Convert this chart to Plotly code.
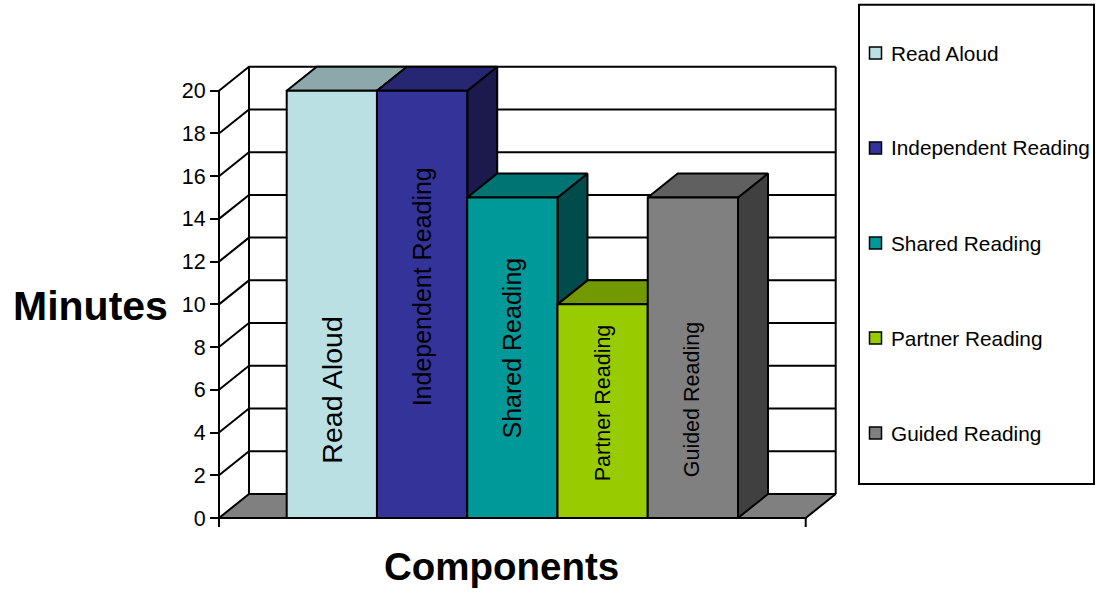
import plotly.graph_objects as go

# ---------------- data ----------------
series = ["Read Aloud", "Independent Reading", "Shared Reading", "Partner Reading", "Guided Reading"]
minutes = [20, 20, 15, 10, 15]
y_ticks = [0, 2, 4, 6, 8, 10, 12, 14, 16, 18, 20]
x_title = "Components"
y_title = "Minutes"

# ---------------- style ----------------
front_colors = ["#BBE0E3", "#333399", "#009999", "#99CC00", "#808080"]
label_frac = [0.30, 0.54, 0.53, 0.54, 0.37]      # label centre as fraction of bar height
label_size = [28.5, 25, 25, 21.5, 21.5]
FONT = "Liberation Sans, Arial, sans-serif"
LW = 2

W_FIG, H_FIG = 1096, 594
# pixel calibration of the front plane
X0_PX, XW_PX = 219.0, 805.7      # x = 0 and x = W
Y0_PX, Y20_PX = 518.0, 90.7      # y = 0 and y = 20
DX_PX, DY_PX = 30.0, 24.0        # depth offset
GAP = 0.75                        # half of the category gap (in bar widths)
W = len(series) + 2 * GAP

XU = (XW_PX - X0_PX) / W
YU = (Y0_PX - Y20_PX) / max(y_ticks)
DX = DX_PX / XU
DY = DY_PX / YU
TK = 9 / YU

L, R, T, B = 208.0, 850.0, 60.0, 535.0
xr = [(L - X0_PX) / XU, (R - X0_PX) / XU]
yr = [(Y0_PX - B) / YU, (Y0_PX - T) / YU]


def px2paper(px, py):
    return (px - L) / (R - L), (B - py) / (B - T)


def shade(hexc, f):
    h = hexc.lstrip("#")
    r, g, b = (int(h[i:i + 2], 16) for i in (0, 2, 4))
    return "#%02X%02X%02X" % (round(r * f), round(g * f), round(b * f))


fig = go.Figure()


def poly(pts, fill):
    xs = [p[0] for p in pts] + [pts[0][0]]
    ys = [p[1] for p in pts] + [pts[0][1]]
    fig.add_trace(go.Scatter(x=xs, y=ys, mode="lines", fill="toself", fillcolor=fill,
                             line=dict(color="black", width=LW), hoverinfo="skip",
                             showlegend=False))


def line(xs, ys):
    fig.add_trace(go.Scatter(x=xs, y=ys, mode="lines", line=dict(color="black", width=LW),
                             hoverinfo="skip", showlegend=False))


top = max(y_ticks)
# floor
poly([(0, 0), (W, 0), (W + DX, DY), (DX, DY)], "#808080")
# walls & gridlines
for t in y_ticks[1:]:
    line([0, DX, W + DX], [t, t + DY, t + DY])
line([DX, DX], [DY, top + DY])
line([W + DX, W + DX], [DY, top + DY])
# front axis lines / ticks
line([0, 0], [-TK, top])
line([W, W], [-TK, 0])

# bars
for i, (name, v, c) in enumerate(zip(series, minutes, front_colors)):
    x0 = GAP + i
    x1 = x0 + 1
    poly([(x1, 0), (x1 + DX, DY), (x1 + DX, v + DY), (x1, v)], shade(c, 0.5))
    poly([(x0, v), (x1, v), (x1 + DX, v + DY), (x0 + DX, v + DY)], shade(c, 0.75))
    poly([(x0, 0), (x1, 0), (x1, v), (x0, v)], c)
    fig.add_annotation(x=(x0 + x1) / 2, y=v * label_frac[i], text=name, textangle=-90,
                       showarrow=False, font=dict(size=label_size[i], color="black", family=FONT),
                       xanchor="center", yanchor="middle")

# legend (manual)
shapes = []
lx0, ly0 = px2paper(859, 4.7)
lx1, ly1 = px2paper(1094, 484)
shapes.append(dict(type="rect", xref="paper", yref="paper", x0=lx0, y0=ly1, x1=lx1, y1=ly0,
                   line=dict(color="black", width=LW), fillcolor="white", layer="above"))
for i, (name, c) in enumerate(zip(series, front_colors)):
    cy = 53 + i * 95
    sx0, sy0 = px2paper(869.5, cy - 6)
    sx1, sy1 = px2paper(881.5, cy + 6)
    shapes.append(dict(type="rect", xref="paper", yref="paper", x0=sx0, y0=sy1, x1=sx1, y1=sy0,
                       line=dict(color="black", width=1.5), fillcolor=c, layer="above"))
    tx, ty = px2paper(889, cy)
    fig.add_annotation(xref="paper", yref="paper", x=tx, y=ty, text=name, showarrow=False,
                       xanchor="left", yanchor="middle",
                       font=dict(size=20.8, color="black", family=FONT))

# axis titles
ax, ay = px2paper(90.5, 306)
fig.add_annotation(xref="paper", yref="paper", x=ax, y=ay, text="<b>%s</b>" % y_title,
                   showarrow=False, xanchor="center", yanchor="middle",
                   font=dict(size=41, color="black", family=FONT))
bx, by = px2paper(501.5, 566)
fig.add_annotation(xref="paper", yref="paper", x=bx, y=by, text="<b>%s</b>" % x_title,
                   showarrow=False, xanchor="center", yanchor="middle",
                   font=dict(size=38.5, color="black", family=FONT))

fig.update_layout(
    width=W_FIG, height=H_FIG,
    margin=dict(l=L, r=W_FIG - R, t=T, b=H_FIG - B, autoexpand=False),
    paper_bgcolor="white", plot_bgcolor="white",
    font=dict(family=FONT, color="black"),
    shapes=shapes,
    showlegend=False,
    xaxis=dict(range=xr, visible=False, fixedrange=True),
    yaxis=dict(range=yr, tickmode="array", tickvals=y_ticks, ticktext=[str(t) for t in y_ticks],
               ticks="outside", ticklen=9, tickwidth=LW, tickcolor="black",
               showgrid=False, zeroline=False, showline=False,
               anchor="free", position=(X0_PX - L) / (R - L),
               tickfont=dict(size=21.5, color="black", family=FONT), fixedrange=True),
)

fig.write_html("out.html", config={"displayModeBar": False},
               post_script="document.body.style.margin='0';document.body.style.overflow='hidden';")
